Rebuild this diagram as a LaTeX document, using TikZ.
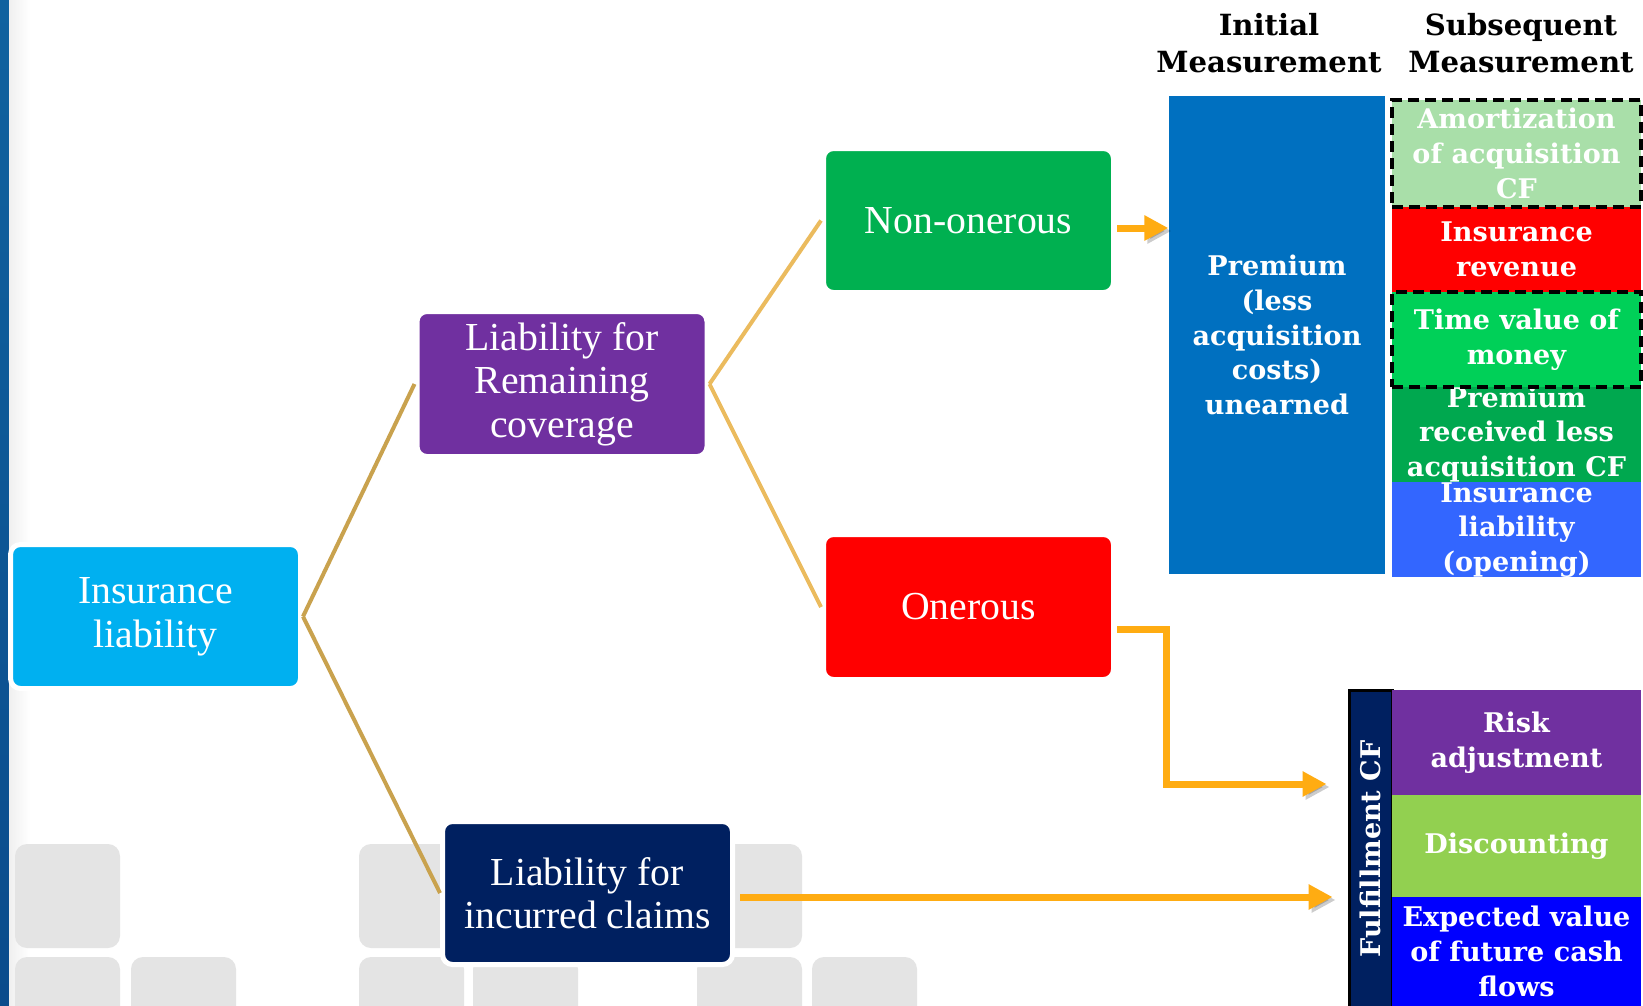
\documentclass[tikz,border=0pt]{standalone}
\usepackage{fontspec}
\setmainfont{Liberation Serif}
\newfontfamily\measfont{DejaVu Serif}
\usetikzlibrary{positioning}
\usetikzlibrary{calc}
\usetikzlibrary{arrows.meta}

\definecolor{ilblue}{HTML}{00B0F0}
\definecolor{lrcpurple}{HTML}{7030A0}
\definecolor{nongreen}{HTML}{00B050}
\definecolor{onered}{HTML}{FF0000}
\definecolor{navy}{HTML}{002060}
\definecolor{initblue}{HTML}{0070C0}
\definecolor{amortgreen}{HTML}{A9DFA9}
\definecolor{tvmgreen}{HTML}{00D058}
\definecolor{premgreen}{HTML}{00A84F}
\definecolor{openblue}{HTML}{3366FF}
\definecolor{discgreen}{HTML}{92D050}
\definecolor{expblue}{HTML}{0000FF}
\definecolor{arrowgold}{HTML}{FFAC12}
\definecolor{darktan}{HTML}{C9A24E}
\definecolor{lighttan}{HTML}{EBBB5E}
\definecolor{tilegray}{HTML}{E4E4E4}
\definecolor{bartop}{HTML}{10629F}
\definecolor{barbottom}{HTML}{0B4C8C}

\begin{document}
\begin{tikzpicture}[x=0.1mm,y=-0.1mm,
    treebox/.style={rounded corners=1mm, draw=white, line width=0.5mm, text=white, align=center,
        inner sep=0pt, minimum width=29mm, minimum height=14.4mm, font=\fontsize{11.3}{12.4}\selectfont},
    measbox/.style={inner sep=0pt, text=white, align=center, minimum width=24.9mm,
        font=\measfont\bfseries\fontsize{7.7}{9.9}\selectfont},
    dashbox/.style={draw=black, line width=0.4mm, dash pattern=on 1.1mm off 0.6mm},
    headtext/.style={align=center, inner sep=0pt, font=\measfont\bfseries\fontsize{8.3}{10.5}\selectfont},
    treeline/.style={line width=0.4mm},
    flowarrow/.style={draw=arrowgold, line width=0.7mm, -{Triangle[length=2.4mm,width=2.4mm]},
        preaction={draw=black, opacity=0.2, transform canvas={shift={(0.3mm,-0.3mm)}}}},
    tile/.style={fill=tilegray, rounded corners=1.2mm}]

    \useasboundingbox (0,0) rectangle (1643,1006);
    \fill[white] (0,0) rectangle (1643,1006);
    \shade[top color=bartop, bottom color=barbottom] (0,0) rectangle (9,1006);
    \shade[left color=black!6, right color=white] (9,0) rectangle (30,1006);

    \foreach \x/\y in {15/844, 359/844, 697/844, 15/957, 131/957, 359/957, 473/957, 697/957, 812/957}
        \fill[tile] (\x,\y) rectangle ++(105,104);

    \node[treebox, fill=ilblue] (il) at (155.5,616.5) {Insurance\\liability};
    \node[treebox, fill=lrcpurple, minimum height=14.5mm] (lrc) at (562,384) {Liability for\\Remaining\\coverage};
    \node[treebox, fill=nongreen] (non) at (968.5,220.5) {Non-onerous};
    \node[treebox, fill=onered, minimum height=14.5mm] (oner) at (968.5,607) {Onerous};
    \node[treebox, fill=navy, minimum height=14.3mm] (lic) at (587.5,893) {Liability for\\incurred claims};

    \draw[treeline, darktan] (il.east) -- (lrc.west);
    \draw[treeline, darktan] (il.east) -- (lic.west);
    \draw[treeline, lighttan] (lrc.east) -- (non.west);
    \draw[treeline, lighttan] (lrc.east) -- (oner.west);

    \node[headtext] (inithead) at (1269,43) {Initial\\Measurement};
    \node[headtext] (subhead) at (1521,43) {Subsequent\\Measurement};

    \node[measbox, fill=initblue, minimum width=21.6mm, minimum height=47.8mm] (init) at (1277,335)
        {Premium\\(less\\acquisition\\costs)\\unearned};

    \node[measbox, fill=onered, minimum height=8.5mm] (rev) at (1516.5,249.5) {Insurance\\revenue};
    \node[measbox, fill=premgreen, minimum height=9.5mm] (prem) at (1516.5,434.5) {Premium\\received less\\acquisition CF};
    \begin{scope}
        \clip (1380,470) rectangle (1643,577);
        \fill[openblue] (1392,482) rectangle (1641,577);
        \node[measbox] (open) at (1516.5,530) {Insurance\\liability\\(opening)};
    \end{scope}
    \node[measbox, dashbox, fill=amortgreen, minimum height=10.7mm] (amort) at (1516.5,153.5) {Amortization\\of acquisition\\CF};
    \node[measbox, dashbox, fill=tvmgreen, minimum height=9.5mm] (tvm) at (1516.5,339.5) {Time value of\\money};

    \node[measbox, fill=navy, draw=black, line width=0.3mm, minimum width=4.3mm, minimum height=31.8mm] (fcf) at (1370.5,849)
        {\rotatebox{90}{Fulfillment CF}};
    \node[measbox, fill=lrcpurple, minimum height=10.5mm] (risk) at (1516.5,742.5) {Risk\\adjustment};
    \node[measbox, fill=discgreen, minimum height=10.2mm] (disc) at (1516.5,846) {Discounting};
    \node[measbox, fill=expblue, minimum height=10.9mm] (expv) at (1516.5,951.5) {Expected value\\of future cash\\flows};

    \draw[flowarrow] ($(non.east)+(1,7.5)$) coordinate (nonout) -- (nonout -| init.west);
    \draw[flowarrow] ($(oner.east)+(1,22)$) -- ++(49,0) |- ($(fcf.west)+(-21,-65)$);
    \draw[flowarrow] ($(lic.east)+(5,4)$) -- ($(fcf.west)+(-15,48)$);
\end{tikzpicture}
\end{document}
